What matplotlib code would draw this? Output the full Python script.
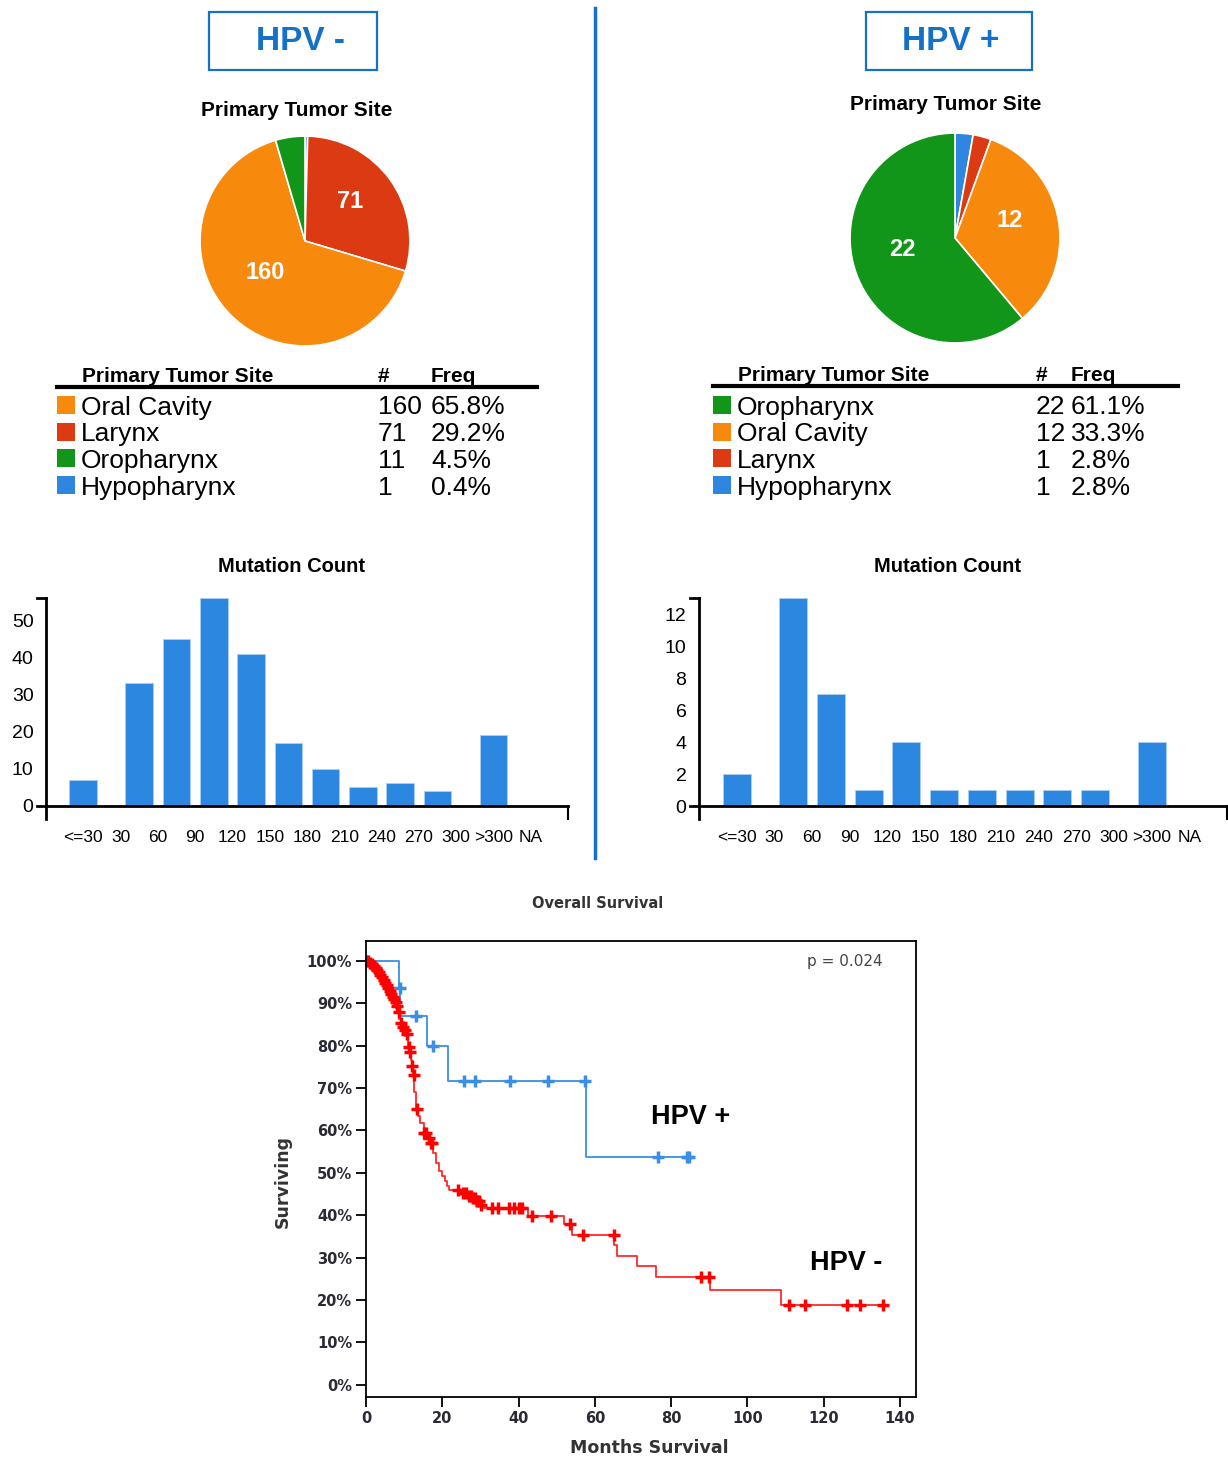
#!/usr/bin/env python3

import numpy as np
import matplotlib.pyplot as plt
from matplotlib.patches import Rectangle

#- Primary tumor site counts
sites_neg = ["Oral Cavity", "Larynx", "Oropharynx", "Hypopharynx"]
counts_neg = [160, 71, 11, 1]
sites_pos = ["Oropharynx", "Oral Cavity", "Larynx", "Hypopharynx"]
counts_pos = [22, 12, 1, 1]
pie_order = ["Hypopharynx", "Larynx", "Oral Cavity", "Oropharynx"]
site_colors = {"Oral Cavity": "#F7890C", "Larynx": "#DC3A13",
               "Oropharynx": "#12961A", "Hypopharynx": "#2F86E0"}

#- Mutation count histograms
mut_ticks = ["<=30", "30", "60", "90", "120", "150", "180", "210", "240", "270", "300", ">300", "NA"]
mut_bins = [("<=30",), ("30", "60"), ("60", "90"), ("90", "120"), ("120", "150"), ("150", "180"),
            ("180", "210"), ("210", "240"), ("240", "270"), ("270", "300"), (">300",), ("NA",)]
mut_neg = [7, 33, 45, 56, 41, 17, 10, 5, 6, 4, 19, 0]
mut_pos = [2, 13, 7, 1, 4, 1, 1, 1, 1, 1, 4, 0]

#- Kaplan-Meier curves (months, % surviving)
pos_t = [0, 8.7, 8.9, 15.9, 21.6, 57.7, 84.6]
pos_s = [100, 93.5, 87.0, 79.9, 71.7, 53.8, 53.8]
pos_cens = [0, 8.8, 13.1, 17.5, 25.8, 28.6, 37.7, 47.8, 57.3, 76.5, 84.2, 84.6]

neg_t = [0, 0.8, 1.3, 1.8, 2.3, 2.8, 3.2, 3.6, 4.0, 4.4, 4.8, 5.2, 5.6, 6.0, 6.4, 6.8, 7.2, 7.6,
         8.0, 8.4, 8.7, 9.2, 9.7, 10.2, 10.7, 10.9, 11.3, 11.7, 12.0, 12.4, 12.7, 13.1, 13.6,
         14.2, 15.1, 16.0, 17.0, 17.6, 18.4, 19.2, 20.0, 20.6, 21.2, 21.7, 25.0, 26.7, 27.8,
         28.8, 29.7, 30.5, 42.4, 51.9, 54.1, 65.1, 65.7, 71.1, 76.0, 90.2, 108.9, 135.5]
neg_s = [100, 99.6, 99.2, 98.8, 98.3, 97.8, 97.3, 96.7, 96.1, 95.5, 94.9, 94.2, 93.6, 93.0,
         92.3, 91.6, 90.9, 90.2, 89.3, 88.0, 86.2, 85.4, 84.5, 83.7, 82.8, 79.7, 78.5, 76.6,
         75.1, 73.0, 69.0, 65.0, 63.5, 61.8, 59.5, 58.3, 57.0, 54.6, 52.2, 50.5, 49.3, 48.1,
         46.8, 45.9, 45.3, 44.6, 44.0, 43.3, 42.5, 41.6, 39.9, 38.0, 35.4, 33.0, 30.4, 27.9,
         25.3, 22.3, 18.9, 18.9]
neg_cens = [0.5, 1.0, 1.5, 2.0, 2.5, 3.0, 3.4, 3.8, 4.2, 4.6, 5.0, 5.4, 5.8, 6.2, 6.6, 7.0,
            7.4, 7.8, 8.2, 8.6, 9.3, 9.8, 10.3, 10.8, 11.2, 11.6, 12.1, 12.6, 13.3, 15.2, 15.8,
            16.4, 17.1, 17.4, 24.0, 25.5, 26.3, 27.0, 27.5, 28.0, 28.5, 29.0, 29.6, 30.2, 33.0,
            34.5, 37.5, 38.8, 40.0, 41.0, 43.6, 48.5, 53.5, 57.0, 65.0, 87.8, 90.0, 111.0,
            115.0, 126.0, 129.5, 135.5]

W, H = 1228, 1459
blue_hdr = "#1570C8"
bar_blue = "#2C87E0"
arial = ["Liberation Sans", "DejaVu Sans"]

fig = plt.figure(figsize=(W / 100, H / 100), dpi=100)


def px_axes(l, t, r, b, **kw):
    return fig.add_axes([l / W, 1 - b / H, (r - l) / W, (b - t) / H], **kw)


#- overlay in pixel coordinates for headers, tables and labels
ov = px_axes(0, 0, W, H, zorder=5)
ov.set_xlim(0, W)
ov.set_ylim(H, 0)
ov.axis("off")
ov.patch.set_alpha(0)

for (x0, x1, xt, label) in [(209, 377, 300, "HPV -"), (866, 1032, 951, "HPV +")]:
    ov.add_patch(Rectangle((x0, 12), x1 - x0, 58, fill=False, ec=blue_hdr, lw=1.6))
    ov.text(xt, 42, label, ha="center", va="center", color=blue_hdr,
            fontsize=24, fontweight="bold", family=arial)

ov.plot([595, 595], [8, 858], color=blue_hdr, lw=2.5)


#- pies
def draw_pie(cx, cy, r, sites, counts, title_x, title_y):
    ax = px_axes(cx - r, cy - r, cx + r, cy + r)
    vals = [counts[sites.index(s)] for s in pie_order]
    cols = [site_colors[s] for s in pie_order]
    wedges, _ = ax.pie(vals, colors=cols, startangle=90, counterclock=False,
                       wedgeprops=dict(edgecolor="white", linewidth=1.2))
    total = sum(vals)
    for w, v in zip(wedges, vals):
        if v / total > 0.1:
            ang = np.deg2rad((w.theta1 + w.theta2) / 2)
            ax.text(0.53 * np.cos(ang), 0.53 * np.sin(ang) + 0.07, str(v), ha="center",
                    va="center", color="white", fontsize=17, fontweight="bold", family=arial)
    ax.set_xlim(-1.01, 1.01)
    ax.set_ylim(-1.01, 1.01)
    ax.set_aspect("equal")
    ov.text(title_x, title_y, "Primary Tumor Site", ha="center", va="center",
            fontsize=15, fontweight="bold", family=arial)


draw_pie(305, 241, 106, sites_neg, counts_neg, 297, 110)
draw_pie(955, 238, 106, sites_pos, counts_pos, 946, 105)


#- tables
def draw_table(x0, x1, xnum, xfreq, ytop, sites, counts):
    total = sum(counts)
    ov.text(x0 + 25, ytop, "Primary Tumor Site", ha="left", va="baseline",
            fontsize=15, fontweight="bold", family=arial)
    ov.text(xnum, ytop, "#", ha="left", va="baseline", fontsize=15, fontweight="bold", family=arial)
    ov.text(xfreq, ytop, "Freq", ha="left", va="baseline", fontsize=15, fontweight="bold", family=arial)
    ov.plot([x0, x1], [ytop + 5, ytop + 5], color="black", lw=3)
    for i, (s, c) in enumerate(zip(sites, counts)):
        yc = 405 + 26.7 * i
        ov.add_patch(Rectangle((x0, yc - 9), 18, 18, color=site_colors[s], lw=0))
        ov.text(x0 + 24, yc + 9.5, s, ha="left", va="baseline", fontsize=19, family=arial)
        ov.text(xnum, yc + 9.5, str(c), ha="left", va="baseline", fontsize=19, family=arial)
        ov.text(xfreq, yc + 9.5, "%.1f%%" % (100 * c / total), ha="left", va="baseline",
                fontsize=19, family=arial)


draw_table(57, 537, 378, 431, 382, sites_neg, counts_neg)
draw_table(713, 1178, 1036, 1071, 381, sites_pos, counts_pos)


#- mutation count bars
def draw_bars(l, r, vals, ytop, ybot, yticks, title_x):
    ax = px_axes(l, 598, r, 819)
    ax.patch.set_alpha(0)
    pos = [np.mean([mut_ticks.index(b) for b in bn]) for bn in mut_bins]
    ax.bar(pos, vals, width=0.74, color=bar_blue, edgecolor="#A9D0F5", linewidth=0.6, zorder=2)
    ax.set_xlim(-1, 13)
    ax.set_ylim(ybot, ytop)
    for sp in ["top", "right", "bottom"]:
        ax.spines[sp].set_visible(False)
    ax.spines["left"].set_linewidth(2)
    ax.set_yticks(yticks)
    ax.set_yticklabels([str(t) for t in yticks], family=arial, fontsize=14)
    ax.tick_params(axis="y", length=0, pad=9)
    ax.set_xticks(range(len(mut_ticks)))
    ax.set_xticklabels(mut_ticks, family=arial, fontsize=12.5)
    ax.tick_params(axis="x", length=0, pad=8)
    f = 9.0 / (r - l)
    tr = ax.get_yaxis_transform()
    ax.plot([-f, 1], [0, 0], color="black", lw=2, transform=tr, clip_on=False, zorder=3)
    ax.plot([-f, 0], [ytop, ytop], color="black", lw=2, transform=tr, clip_on=False)
    ax.plot([1, 1], [0, ybot], color="black", lw=1.5, transform=tr, clip_on=False)
    ov.text(title_x, 567, "Mutation Count", ha="center", va="center",
            fontsize=14.5, fontweight="bold", family=arial)


draw_bars(46, 568, mut_neg, 56, -3.6, range(0, 51, 10), 291)
draw_bars(699, 1227, mut_pos, 13, -0.78, range(0, 13, 2), 948)

#- Kaplan-Meier
km = px_axes(366, 941, 916, 1397)
km.step(pos_t, pos_s, where="post", color="#3A8EE6", lw=1.3)
km.step(neg_t, neg_s, where="post", color="#FF2A2A", lw=1.3)
pc_y = [pos_s[np.searchsorted(pos_t, c, side="right") - 1] for c in pos_cens]
nc_y = [neg_s[np.searchsorted(neg_t, c, side="right") - 1] for c in neg_cens]
km.plot(pos_cens, pc_y, "+", color="#3A8EE6", ms=9, mew=2.5)
km.plot(neg_cens, nc_y, "+", color="#FF0000", ms=9, mew=2.5)
km.set_xlim(0, 144.2)
km.set_ylim(-2.9, 104.7)
km.set_xticks(range(0, 141, 20))
km.set_yticks(range(0, 101, 10))
km.set_yticklabels(["%d%%" % v for v in range(0, 101, 10)])
for sp in km.spines.values():
    sp.set_linewidth(1.3)
km.tick_params(axis="y", length=7, width=1.3, pad=3, labelsize=10.5, labelcolor="#2a2a35")
km.tick_params(axis="x", length=7, width=1.3, pad=3, labelsize=10.5, labelcolor="#2a2a35")
for lab in km.get_xticklabels() + km.get_yticklabels():
    lab.set_fontweight("bold")
km.text(0.94, 0.955, "p = 0.024", transform=km.transAxes, ha="right", va="center",
        fontsize=11, color="#444444")
ov.text(691, 1117, "HPV +", ha="center", va="center", fontsize=19.5, fontweight="bold", family=arial)
ov.text(846, 1263, "HPV -", ha="center", va="center", fontsize=19.5, fontweight="bold", family=arial)
ov.text(598, 903, "Overall Survival", ha="center", va="center", fontsize=10.5,
        fontweight="bold", color="#333333")
ov.text(649, 1448, "Months Survival", ha="center", va="center", fontsize=12.5,
        fontweight="bold", color="#333333")
ov.text(283, 1182, "Surviving", ha="center", va="center", rotation=90, fontsize=12.5,
        fontweight="bold", color="#333333")

plt.savefig("out.png", dpi=100)
